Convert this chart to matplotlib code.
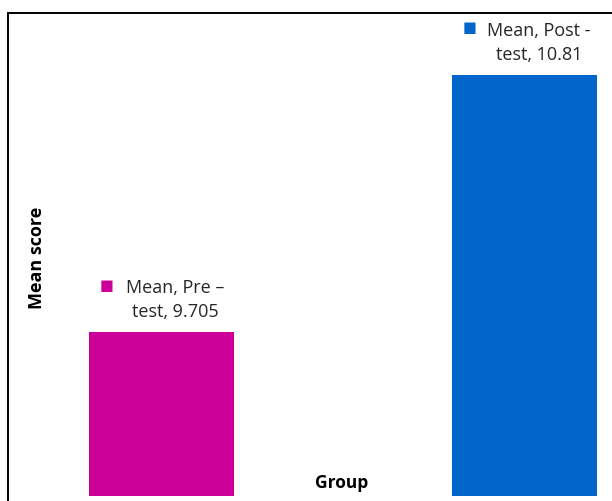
import matplotlib
matplotlib.use("Agg")
import matplotlib.pyplot as plt

# Group means
categories = ["Mean, Pre \u2013 test", "Mean, Post - test"]
label_lines = [["Mean, Pre \u2013", "test, 9.705"], ["Mean, Post -", "test, 10.81"]]
values = [9.705, 10.81]
colors = ["#CC0099", "#0066CC"]
axis_min = 9.0

W, H, DPI = 612, 502, 100
fig = plt.figure(figsize=(W / DPI, H / DPI), dpi=DPI)
fig.patch.set_facecolor("white")

# Plot area in pixel terms (right side runs off the canvas)
left_px, top_px, right_px, bottom_px = 8, 14, 678, 502
ax = fig.add_axes([left_px / W, 1 - bottom_px / H,
                   (right_px - left_px) / W, (bottom_px - top_px) / H])

px_per_unit = 232.6
base_px = 497
ax.set_ylim(axis_min - (bottom_px - base_px) / px_per_unit,
            axis_min + (base_px - top_px) / px_per_unit)
ax.set_xlim(-0.4217, 1.4217)

x = list(range(len(categories)))
ax.bar(x, [v - axis_min for v in values], bottom=axis_min, width=0.4,
       color=colors, edgecolor="none")

for xi, v, c, lines in zip(x, values, colors, label_lines):
    ax.annotate("\n".join(lines), xy=(xi, v), xytext=(14, 33),
                textcoords="offset pixels", ha="center", va="center",
                multialignment="center", fontsize=13, color="#262626",
                family="Open Sans", linespacing=1.45)
    ax.annotate("\u25A0", xy=(xi, v), xytext=(-55, 48),
                textcoords="offset pixels", ha="center", va="center",
                fontsize=10.5, color=c, family="DejaVu Sans")

for side in ["right", "bottom"]:
    ax.spines[side].set_visible(False)
for side in ["left", "top"]:
    ax.spines[side].set_color("black")
    ax.spines[side].set_linewidth(1.4)
ax.set_xticks([])
ax.set_yticks([])

fig.text(37 / W, 1 - 258 / H, "Mean score", rotation=90, ha="center",
         va="center", fontsize=13, fontweight="bold", family="Open Sans",
         color="black")
fig.text(342 / W, 1 - 483 / H, "Group", ha="center", va="center",
         fontsize=12.5, fontweight="bold", family="Open Sans", color="black")

fig.savefig("out.png", dpi=DPI)
